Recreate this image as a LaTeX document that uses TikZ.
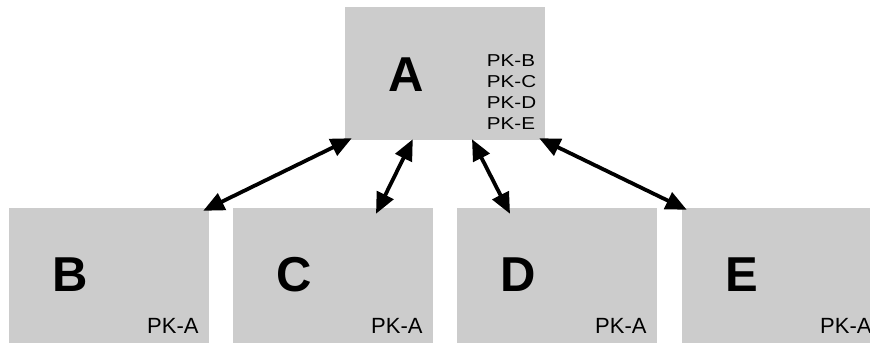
\documentclass[tikz,border=0pt]{standalone}
\usepackage{fontspec}
\usepackage{graphicx}
\setmainfont{Liberation Sans}
\usetikzlibrary{arrows.meta}
\definecolor{boxgray}{HTML}{CCCCCC}
\newcommand{\wide}[1]{\scalebox{1.2}[1]{#1}}

\begin{document}
\begin{tikzpicture}[x=1pt,y=-1pt,
    tbl/.style={fill=boxgray,minimum width=200pt,inner sep=0pt},
    big/.style={font=\fontsize{49}{49}\selectfont\bfseries,inner sep=0pt},
    key/.style={font=\fontsize{22}{22}\selectfont,inner sep=0pt,anchor=base east},
    fk/.style={font=\fontsize{17.2}{20.9}\selectfont,inner sep=0pt,anchor=base west},
    link/.style={line width=3.8pt,arrows={Triangle[length=21pt,width=18pt]-Triangle[length=21pt,width=18pt]}}]
            \useasboundingbox (0,0) rectangle (870,343);
            \clip (0,0) rectangle (870,343);

            \node (a) at (445,73.5) [tbl,minimum height=133pt] {};
            \node (b) at (109,275.5) [tbl,minimum height=135pt] {};
            \node (c) at (333,275.5) [tbl,minimum height=135pt] {};
            \node (d) at (557,275.5) [tbl,minimum height=135pt] {};
            \node (e) at (782,275.5) [tbl,minimum height=135pt] {};

            \node (la) at (406,74.5) [big] {A};
            \node (lb) at (70,274.5) [big] {B};
            \node (lc) at (294,274.5) [big] {C};
            \node (ld) at (518,274.5) [big] {D};
            \node (le) at (742,274.5) [big] {E};

            \node (pkb) at (486.7,66.7) [fk] {\wide{PK-B}};
            \node (pkc) at (486.7,87.6) [fk] {\wide{PK-C}};
            \node (pkd) at (486.7,108.5) [fk] {\wide{PK-D}};
            \node (pke) at (486.7,129.4) [fk] {\wide{PK-E}};

            \node (kb) at ([xshift=-10.5pt,yshift=9.7pt]b.south east) [key] {PK-A};
            \node (kc) at ([xshift=-10.5pt,yshift=9.7pt]c.south east) [key] {PK-A};
            \node (kd) at ([xshift=-10.5pt,yshift=9.7pt]d.south east) [key] {PK-A};
            \node (ke) at ([xshift=-10.5pt,yshift=9.7pt]e.south east) [key] {PK-A};

            \draw[link] ([xshift=7pt,yshift=2pt]a.south west) -- ([xshift=-6pt,yshift=-3pt]b.north east);
            \draw[link] ([xshift=68pt,yshift=1pt]a.south west) -- ([xshift=43pt,yshift=-6pt]c.north);
            \draw[link] ([xshift=27pt,yshift=1pt]a.south) -- ([xshift=-47pt,yshift=-6pt]d.north);
            \draw[link] ([xshift=-6pt,yshift=2pt]a.south east) -- ([xshift=5pt,yshift=-2pt]e.north west);

        \end{tikzpicture}
\end{document}
